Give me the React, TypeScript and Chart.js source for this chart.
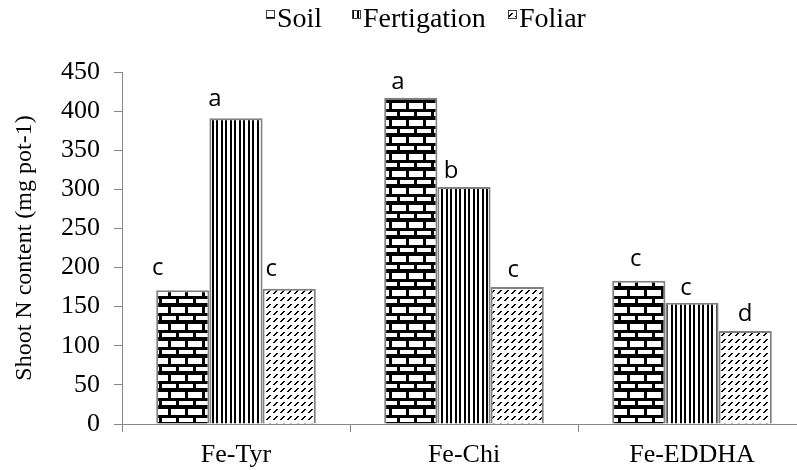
import React, { useEffect, useRef } from 'react';
import { Chart, registerables } from 'chart.js';

Chart.register(...registerables);

const categories = ['Fe-Tyr', 'Fe-Chi', 'Fe-EDDHA'];
const seriesNames = ['Soil', 'Fertigation', 'Foliar'];
const soilValues = [171, 417, 183];
const fertigationValues = [391, 303, 155];
const foliarValues = [173, 175, 119];
const soilLetters = ['c', 'a', 'c'];
const fertigationLetters = ['a', 'b', 'c'];
const foliarLetters = ['c', 'c', 'd'];
const yMin = 0;
const yMax = 450;
const yStep = 50;
const yTitle = 'Shoot N content (mg pot-1)';

const letterSets = [soilLetters, fertigationLetters, foliarLetters];
// style: per-letter horizontal offset from bar centre and gap above bar top
const LETTER_DX = [[-25, -13, -3], [-21, -13, -6], [-18, -4, 0]];
const LETTER_GAP = [[15, 9, 15], [12, 9, 8], [13, 10, 10]];
// style: legend item left edges
const LEGEND_X = [266, 352, 508];

const SERIF = '"Liberation Serif"';

function makeTile(w: number, h: number, draw: (c: CanvasRenderingContext2D) => void) {
  const cv = document.createElement('canvas');
  cv.width = w;
  cv.height = h;
  const c = cv.getContext('2d')!;
  draw(c);
  return cv;
}

function brickTile() {
  return makeTile(17, 17, (c) => {
    c.fillStyle = '#000';
    c.fillRect(0, 0, 17, 17);
    c.fillStyle = '#fff';
    c.fillRect(1, 1, 14, 6);
    c.fillRect(9, 10, 14, 4);
    c.fillRect(-8, 10, 14, 4);
  });
}

function stripeTile() {
  return makeTile(9, 4, (c) => {
    c.fillStyle = '#fff';
    c.fillRect(0, 0, 9, 4);
    c.fillStyle = '#000';
    c.fillRect(0, 0, 2, 4);
    c.fillRect(5, 0, 2, 4);
  });
}

function dashTile() {
  return makeTile(7, 7, (c) => {
    c.fillStyle = '#fff';
    c.fillRect(0, 0, 7, 7);
    c.fillStyle = '#000';
    [0, 1, 2, 3].forEach((i) => {
      c.fillRect(i, 6 - i, 2, 1);
    });
  });
}

const letterPlugin = {
  id: 'letterLabels',
  afterDatasetsDraw(chart: any) {
    const ctx = chart.ctx;
    ctx.save();
    ctx.font = '24px "Open Sans"';
    ctx.fillStyle = '#000';
    ctx.textAlign = 'center';
    ctx.textBaseline = 'alphabetic';
    letterSets.forEach((letters, di) => {
      const meta = chart.getDatasetMeta(di);
      meta.data.forEach((bar: any, i: number) => {
        ctx.fillText(letters[i], bar.x + LETTER_DX[di][i], bar.y - LETTER_GAP[di][i]);
      });
    });
    ctx.restore();
  },
};

const legendPlugin = {
  id: 'patternLegend',
  afterDraw(chart: any) {
    const ctx = chart.ctx;
    const tiles = [brickTile(), stripeTile(), dashTile()];
    ctx.save();
    ctx.font = 'normal 28px ' + SERIF;
    ctx.textBaseline = 'alphabetic';
    ctx.textAlign = 'left';
    chart.data.datasets.forEach((ds: any, i: number) => {
      const x = LEGEND_X[i];
      const pat = ctx.createPattern(tiles[i], 'repeat');
      pat.setTransform(new DOMMatrix().translate(x, 10));
      ctx.fillStyle = pat;
      ctx.fillRect(x, 10, 9, 9);
      ctx.strokeStyle = '#404040';
      ctx.lineWidth = 1;
      ctx.strokeRect(x + 0.5, 10.5, 8, 8);
      ctx.fillStyle = '#000';
      ctx.fillText(ds.label, x + 11, 27);
    });
    ctx.restore();
  },
};

export default function App() {
  const ref = useRef<HTMLCanvasElement | null>(null);

  useEffect(() => {
    const canvas = ref.current!;
    const ctx = canvas.getContext('2d')!;
    const fills = [brickTile(), stripeTile(), dashTile()].map((t) => ctx.createPattern(t, 'repeat')!);
    const values = [soilValues, fertigationValues, foliarValues];

    const chart = new Chart(canvas, {
      type: 'bar',
      data: {
        labels: categories,
        datasets: seriesNames.map((name, i) => ({
          label: name,
          data: values[i],
          backgroundColor: fills[i] as any,
          borderColor: '#808080',
          borderWidth: 2,
          categoryPercentage: 0.7,
          barPercentage: 1,
        })),
      },
      options: {
        responsive: false,
        animation: false,
        layout: { padding: { top: 72, right: 0, bottom: 0, left: 0 } },
        plugins: {
          legend: { display: false },
          tooltip: { enabled: false },
        },
        scales: {
          x: {
            afterFit: (s: any) => {
              s.height = 46;
            },
            grid: { drawOnChartArea: false, drawTicks: true, tickLength: 8, color: '#868686', offset: true },
            border: { color: '#868686', width: 1 },
            ticks: { color: '#000', font: { family: SERIF, size: 26 }, padding: 8 },
          },
          y: {
            min: yMin,
            max: yMax,
            afterFit: (s: any) => {
              s.width = 122;
            },
            grid: { drawOnChartArea: false, drawTicks: true, tickLength: 8, color: '#868686' },
            border: { color: '#868686', width: 1 },
            ticks: { stepSize: yStep, color: '#000', font: { family: SERIF, size: 26 }, padding: 14 },
            title: {
              display: true,
              text: yTitle,
              color: '#000',
              font: { family: SERIF, size: 24 },
              padding: { top: 10, bottom: 0 },
            },
          },
        },
      },
      plugins: [letterPlugin, legendPlugin],
    });

    return () => chart.destroy();
  }, []);

  return (
    <div style={{ position: 'fixed', left: 0, top: 0, width: 797, height: 470, overflow: 'hidden', background: '#fff' }}>
      <canvas ref={ref} width={806} height={470} style={{ display: 'block' }} />
    </div>
  );
}
